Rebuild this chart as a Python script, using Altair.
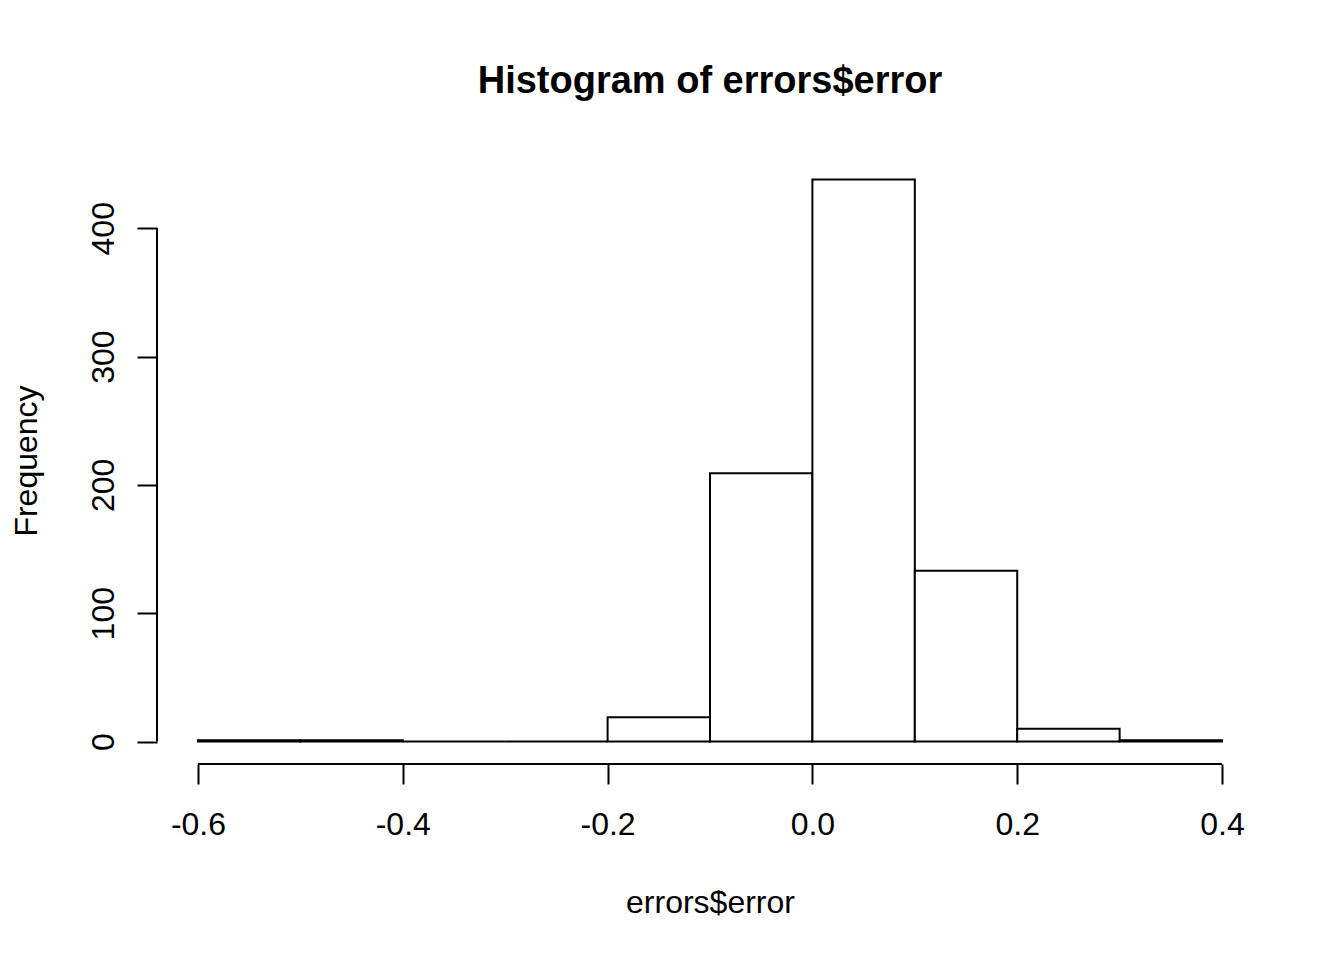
import altair as alt
import pandas as pd

# Histogram data
bin_start = [-0.6, -0.5, -0.4, -0.3, -0.2, -0.1, 0.0, 0.1, 0.2, 0.3]
bin_end = [-0.5, -0.4, -0.3, -0.2, -0.1, 0.0, 0.1, 0.2, 0.3, 0.4]
counts = [1, 1, 0, 0, 19, 209, 438, 133, 10, 1]

x_ticks = [-0.6, -0.4, -0.2, 0.0, 0.2, 0.4]
y_ticks = [0, 100, 200, 300, 400]

# R-style 4% axis extension
x_dom = [-0.64, 0.44]
y_dom = [-17.52, 455.52]

FONT = "Liberation Sans"

bars_df = pd.DataFrame({"start": bin_start, "end": bin_end, "count": counts, "base": [0] * len(counts)})
xline_df = pd.DataFrame({"start": [min(x_ticks)], "end": [max(x_ticks)], "base": [y_dom[0]]})
yline_df = pd.DataFrame({"start": [x_dom[0]], "base": [min(y_ticks)], "count": [max(y_ticks)]})

xscale = alt.Scale(domain=x_dom, nice=False, zero=False)
yscale = alt.Scale(domain=y_dom, nice=False, zero=False)

x_axis = alt.Axis(
    values=x_ticks,
    domain=False, grid=False,
    tickSize=20, tickWidth=2, tickColor="black",
    labelExpr="datum.value < 0 ? '-' + format(-datum.value, '.1f') : format(datum.value, '.1f')",
    labelFont=FONT, labelFontSize=32, labelColor="black",
    labelBaseline="alphabetic", labelPadding=50, labelFlush=False, labelOverlap=False,
    title="errors$error", titleFont=FONT, titleFontSize=32, titleFontWeight="normal",
    titleColor="black", titleBaseline="alphabetic", titleY=148,
)
y_axis = alt.Axis(
    values=y_ticks,
    domain=False, grid=False,
    tickSize=20, tickWidth=2, tickColor="black",
    labelFont=FONT, labelFontSize=32, labelColor="black",
    labelAngle=270, labelAlign="center", labelBaseline="alphabetic",
    labelPadding=24, labelFlush=False, labelOverlap=False,
    title="Frequency", titleFont=FONT, titleFontSize=32, titleFontWeight="normal",
    titleColor="black", titleAngle=270, titleBaseline="alphabetic", titleX=-121,
)

bars = alt.Chart(bars_df).mark_rect(fill="white", stroke="black", strokeWidth=2).encode(
    x=alt.X("start:Q", scale=xscale, axis=x_axis, title="errors$error"),
    x2="end:Q",
    y=alt.Y("base:Q", scale=yscale, axis=y_axis, title="Frequency"),
    y2="count:Q",
)

xline = alt.Chart(xline_df).mark_rule(color="black", strokeWidth=2).encode(
    x=alt.X("start:Q", scale=xscale, axis=x_axis, title="errors$error"),
    x2="end:Q",
    y=alt.Y("base:Q", scale=yscale, axis=y_axis, title="Frequency"),
)

yline = alt.Chart(yline_df).mark_rule(color="black", strokeWidth=2).encode(
    x=alt.X("start:Q", scale=xscale, axis=x_axis, title="errors$error"),
    y=alt.Y("base:Q", scale=yscale, axis=y_axis, title="Frequency"),
    y2="count:Q",
)

chart = alt.layer(bars, xline, yline).properties(
    width=1106,
    height=607,
    background="white",
    autosize=alt.AutoSizeParams(type="none"),
    padding={"left": 149, "top": 149, "right": 73, "bottom": 186},
    title=alt.TitleParams(
        "Histogram of errors$error",
        font=FONT, fontSize=38, fontWeight="bold", color="black",
        anchor="middle", frame="group", baseline="alphabetic", offset=26,
    ),
).configure_view(strokeWidth=0, stroke="transparent")

chart.save("out.html", embed_options={"renderer": "svg", "actions": False})
